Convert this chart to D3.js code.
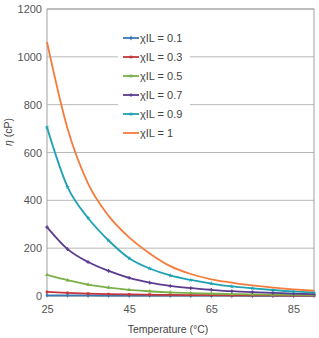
<!DOCTYPE html>
<html>
<head>
<meta charset="utf-8">
<script src="https://cdn.jsdelivr.net/npm/d3@7"></script>
<style>
  body { margin: 0; background: #fff; }
  svg { font-family: "Liberation Sans", Arial, sans-serif; }
</style>
</head>
<body>
<script>
// temperatures (°C) and viscosity per IL mole fraction
const temps = [25, 30, 35, 40, 45, 50, 55, 60, 65, 70, 75, 80, 85, 90];
const seriesNames = ["χIL = 0.1", "χIL = 0.3", "χIL = 0.5", "χIL = 0.7", "χIL = 0.9", "χIL = 1"];
const x01 = [3, 2.6, 2.2, 2, 1.8, 1.6, 1.5, 1.4, 1.3, 1.2, 1.1, 1, 1, 1];
const x03 = [17, 13, 10, 8, 6.5, 5.5, 4.6, 4, 3.5, 3, 2.6, 2.3, 2, 1.8];
const x05 = [88, 66, 48, 35, 26, 20, 15, 12, 10, 8, 7, 6, 5, 4];
const x07 = [288, 196, 142, 105, 76, 56, 42, 33, 26, 20, 16, 13, 10, 8];
const x09 = [705, 456, 326, 232, 158, 115, 86, 67, 52, 40, 32, 25, 19, 15];
const x10 = [1062, 700, 470, 335, 245, 178, 125, 92, 70, 56, 44, 35, 28, 22];
const yTicks = [0, 200, 400, 600, 800, 1000, 1200];
const xTicks = [25, 45, 65, 85];

const colors = ["#3a78b5", "#c4373a", "#7ab04a", "#5b3c8f", "#1ea2b4", "#f47c3c"];
const markers = [d3.symbolDiamond, d3.symbolSquare, d3.symbolTriangle, d3.symbolCross, d3.symbolStar, null];
const allSeries = [x01, x03, x05, x07, x09, x10];

const w = 319, h = 338;
const padL = 47, padR = 314, padT = 9, padB = 296;

const svg = d3.select("body").append("svg")
  .attr("width", w).attr("height", h);

const x = d3.scaleLinear().domain([25, 90]).range([padL, padR]);
const y = d3.scaleLinear().domain([0, 1200]).range([padB, padT]);

// gridlines
svg.append("g")
  .selectAll("line")
  .data(yTicks)
  .enter().append("line")
  .attr("x1", padL).attr("x2", padR)
  .attr("y1", d => y(d)).attr("y2", d => y(d))
  .attr("stroke", "#b8b8b8").attr("stroke-width", 1);

// frame
svg.append("rect")
  .attr("x", padL).attr("y", padT)
  .attr("width", padR - padL).attr("height", padB - padT)
  .attr("fill", "none").attr("stroke", "#a0a0a0").attr("stroke-width", 1);

// axis labels
const yAxis = d3.axisLeft(y).tickValues(yTicks).tickFormat(d3.format("d")).tickSize(0).tickPadding(5);
const gy = svg.append("g").attr("transform", "translate(" + padL + ",0)").call(yAxis);
gy.select(".domain").remove();
gy.selectAll("text").attr("font-size", 11).attr("fill", "#555");
gy.attr("font-family", null);

const xAxis = d3.axisBottom(x).tickValues(xTicks).tickFormat(d3.format("d")).tickSize(0).tickPadding(9);
const gx = svg.append("g").attr("transform", "translate(0," + padB + ")").call(xAxis);
gx.select(".domain").remove();
gx.selectAll("text").attr("font-size", 11).attr("fill", "#555");
gx.attr("font-family", null);

// lines
const line = d3.line()
  .x((d, i) => x(temps[i]))
  .y(d => y(d))
  .curve(d3.curveMonotoneX);

allSeries.forEach((vals, k) => {
  svg.append("path")
    .datum(vals)
    .attr("fill", "none")
    .attr("stroke", colors[k])
    .attr("stroke-width", 1.8)
    .attr("d", line);
  if (markers[k]) {
    svg.append("g").selectAll("path")
      .data(vals)
      .enter().append("path")
      .attr("transform", (d, i) => "translate(" + x(temps[i]) + "," + y(d) + ")")
      .attr("d", d3.symbol().type(markers[k]).size(7))
      .attr("fill", colors[k]);
  }
});

// legend
const legend = svg.append("g");
legend.append("rect")
  .attr("x", 118).attr("y", 28).attr("width", 72).attr("height", 116)
  .attr("fill", "#fff");
const item = legend.selectAll(".legend-label")
  .data(seriesNames)
  .enter().append("g")
  .attr("class", "legend-label")
  .attr("transform", (d, i) => "translate(0," + (38 + i * 19) + ")");
item.append("line")
  .attr("x1", 123).attr("x2", 139)
  .attr("stroke", (d, i) => colors[i]).attr("stroke-width", 1.8);
item.filter((d, i) => markers[i])
  .append("path")
  .attr("transform", "translate(131,0)")
  .attr("d", (d, i) => d3.symbol().type(markers[i]).size(7)())
  .attr("fill", (d, i) => colors[i]);
item.append("text")
  .attr("x", 140).attr("dy", "0.35em")
  .attr("font-size", 11).attr("fill", "#444")
  .text(d => d);

// axis titles
svg.append("text")
  .attr("x", 168).attr("y", 333)
  .attr("text-anchor", "middle")
  .attr("font-size", 10.5).attr("fill", "#444")
  .text("Temperature (°C)");

const yt = svg.append("text")
  .attr("transform", "translate(12,132) rotate(-90)")
  .attr("text-anchor", "middle")
  .attr("font-size", 10.5).attr("fill", "#444");
yt.append("tspan").attr("font-style", "italic").text("η");
yt.append("tspan").text(" (cP)");
</script>
</body>
</html>
